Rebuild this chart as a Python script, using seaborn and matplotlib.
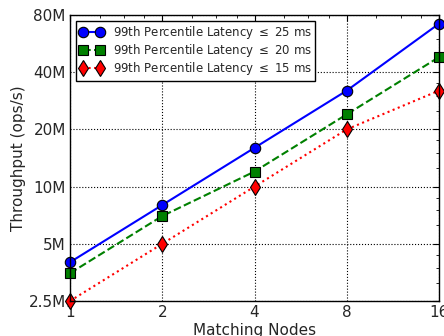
import matplotlib
matplotlib.use("Agg")
import matplotlib.pyplot as plt
import seaborn as sns
import pandas as pd
from matplotlib.ticker import FixedLocator, FixedFormatter, NullFormatter

nodes = [1, 2, 4, 8, 16]
lat25 = [4.0e6, 8.0e6, 16.0e6, 32.0e6, 72.0e6]
lat20 = [3.5e6, 7.0e6, 12.0e6, 24.0e6, 48.0e6]
lat15 = [2.5e6, 5.0e6, 10.0e6, 20.0e6, 32.0e6]
labels = [r"99th Percentile Latency $\leq$ 25 ms",
          r"99th Percentile Latency $\leq$ 20 ms",
          r"99th Percentile Latency $\leq$ 15 ms"]
yticks = [2.5e6, 5e6, 10e6, 20e6, 40e6, 80e6]
yticklabels = ["2.5M", "5M", "10M", "20M", "40M", "80M"]
xticklabels = ["1", "2", "4", "8", "16"]

sns.set_style("white")
plt.rcParams['font.family'] = ['DejaVu Sans']
plt.rcParams['mathtext.fontset'] = 'dejavusans'

fig = plt.figure(figsize=(4.44, 3.36), dpi=100)
ax = fig.add_axes([70/444, 35/336, 369/444, 286/336])

styles = [
    (lat25, labels[0], "blue", "-", "o", 7.5),
    (lat20, labels[1], "green", "--", "s", 7.5),
    (lat15, labels[2], "red", ":", "d", 8),
]
for vals, lab, col, ls, mk, ms in styles:
    df = pd.DataFrame({"x": nodes, "y": vals})
    sns.lineplot(data=df, x="x", y="y", ax=ax, label=lab, color=col,
                 linestyle=ls, marker=mk, markersize=ms, linewidth=1.5,
                 markeredgecolor="black", markeredgewidth=0.8, clip_on=False)

ax.set_xscale("log", base=2)
ax.set_yscale("log", base=2)
ax.set_xlim(1, 16)
ax.set_ylim(2.5e6, 80e6)
ax.xaxis.set_major_locator(FixedLocator(nodes))
ax.xaxis.set_major_formatter(FixedFormatter(xticklabels))
ax.yaxis.set_major_locator(FixedLocator(yticks))
ax.yaxis.set_major_formatter(FixedFormatter(yticklabels))
xminor = [m * b for b in [1, 2, 4, 8] for m in [1.25, 1.5, 1.75]]
yminor = [b * m for b in yticks[:-1] for m in [1.25, 1.5, 1.75]]
ax.xaxis.set_minor_locator(FixedLocator(xminor))
ax.yaxis.set_minor_locator(FixedLocator(yminor))
ax.xaxis.set_minor_formatter(NullFormatter())
ax.yaxis.set_minor_formatter(NullFormatter())

ax.tick_params(which="both", direction="in", top=True, right=True, labelsize=11, pad=3)
ax.tick_params(which="major", length=4, width=0.8, color="black")
ax.tick_params(which="minor", length=2, width=0.6, color="black")
ax.grid(True, which="major", color="black", linestyle=":", linewidth=0.8)
for s in ax.spines.values():
    s.set_color("black")
    s.set_linewidth(1.0)

ax.set_xlabel("Matching Nodes", fontsize=11, labelpad=2)
ax.set_ylabel("Throughput (ops/s)", fontsize=11, labelpad=2)

leg = ax.legend(loc="upper left", numpoints=2, fontsize=8.5, frameon=True,
                fancybox=False, borderpad=0.3, handlelength=2.0,
                handletextpad=0.8, labelspacing=0.08, borderaxespad=0.5)
leg.get_frame().set_edgecolor("black")
leg.get_frame().set_linewidth(1.0)
leg.get_frame().set_alpha(1)

fig.savefig("out.png", dpi=100)
